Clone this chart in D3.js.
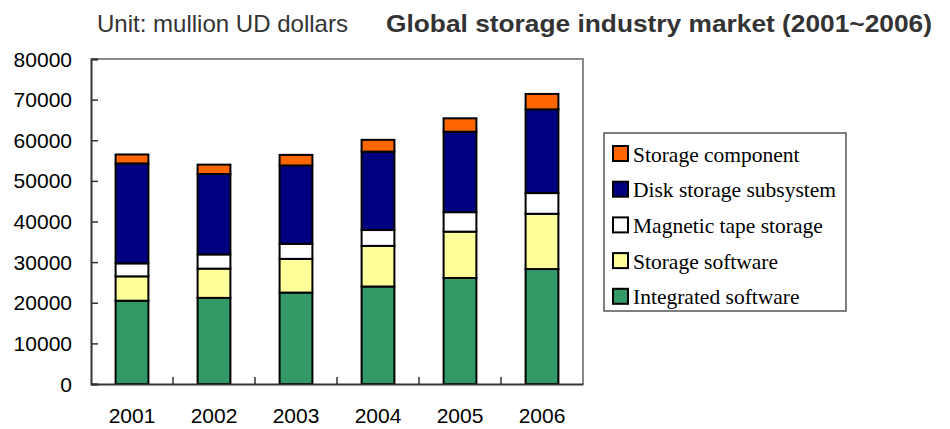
<!DOCTYPE html>
<html>
<head>
<meta charset="utf-8">
<script src="https://cdn.jsdelivr.net/npm/d3@7"></script>
<style>
  html, body { margin: 0; padding: 0; background: #fff; }
  svg { display: block; }
</style>
</head>
<body>
<svg id="chart" width="950" height="429"></svg>
<script>
// ---- data ----
const years = ["2001", "2002", "2003", "2004", "2005", "2006"];
const integratedSoftware = [20500, 21200, 22500, 24000, 26100, 28300];
const storageSoftware    = [6000, 7200, 8300, 10000, 11400, 13600];
const magneticTape       = [3200, 3500, 3700, 3900, 4800, 5100];
const diskSubsystem      = [24600, 19800, 19300, 19300, 19800, 20600];
const storageComponent   = [2200, 2300, 2600, 2900, 3300, 3800];
const seriesNames = ["Integrated software", "Storage software", "Magnetic tape storage", "Disk storage subsystem", "Storage component"];
const seriesColors = ["#339966", "#FFFF99", "#FFFFFF", "#000080", "#FF6600"];
const yTicks = [0, 10000, 20000, 30000, 40000, 50000, 60000, 70000, 80000];
const unitText = "Unit: mullion UD dollars";
const titleText = "Global storage industry market (2001~2006)";

const seriesValues = [integratedSoftware, storageSoftware, magneticTape, diskSubsystem, storageComponent];
const table = years.map((y, i) => {
  const row = { year: y };
  seriesNames.forEach((n, j) => row[n] = seriesValues[j][i]);
  return row;
});

const svg = d3.select("#chart");
const m = { left: 91, right: 583, top: 59, bottom: 384 };

const x = d3.scaleBand().domain(years).range([m.left, m.right]).paddingInner(0.6).paddingOuter(0.3);
const xb = d3.scaleBand().domain(years).range([m.left, m.right]);
const y = d3.scaleLinear().domain([0, 80000]).range([m.bottom, m.top]);

// plot frame (top & right grey)
svg.append("path")
  .attr("d", `M${m.left},${m.top}H${m.right}V${m.bottom}`)
  .attr("fill", "none").attr("stroke", "#8a8a8a").attr("stroke-width", 2);

const stack = d3.stack().keys(seriesNames)(table);

svg.append("g").selectAll("g").data(stack).join("g")
  .attr("fill", (d, i) => seriesColors[i])
  .selectAll("rect").data(d => d).join("rect")
  .attr("x", d => x(d.data.year))
  .attr("width", x.bandwidth())
  .attr("y", d => y(d[1]))
  .attr("height", d => y(d[0]) - y(d[1]))
  .attr("stroke", "#000").attr("stroke-width", 2);

// y axis
const yAxis = svg.append("g").attr("transform", `translate(${m.left},0)`)
  .call(d3.axisRight(y).tickValues(yTicks).tickSize(7).tickFormat(""));
yAxis.select(".domain").attr("stroke", "#333").attr("stroke-width", 2);
yAxis.selectAll(".tick line").attr("stroke", "#333").attr("stroke-width", 1.5);

svg.append("g").selectAll("text").data(yTicks).join("text")
  .attr("x", 72).attr("y", d => y(d)).attr("dy", "0.36em")
  .attr("text-anchor", "end")
  .attr("font-family", "Liberation Sans, Arial, sans-serif").attr("font-size", 21)
  .attr("fill", "#000").text(d => d);

// x axis
const xAxis = svg.append("g").attr("transform", `translate(0,${m.bottom})`)
  .call(d3.axisTop(xb).tickSize(0).tickFormat(""));
xAxis.select(".domain").attr("stroke", "#333").attr("stroke-width", 2);
xAxis.selectAll(".tick").remove();
svg.append("g").selectAll("line").data(years.slice(1)).join("line")
  .attr("x1", d => xb(d)).attr("x2", d => xb(d))
  .attr("y1", m.bottom).attr("y2", m.bottom - 7)
  .attr("stroke", "#333").attr("stroke-width", 1.5);

svg.append("g").selectAll("text").data(years).join("text")
  .attr("x", d => xb(d) + xb.bandwidth() / 2).attr("y", 423)
  .attr("text-anchor", "middle")
  .attr("font-family", "Liberation Sans, Arial, sans-serif").attr("font-size", 21)
  .attr("fill", "#000").text(d => d);

// titles
svg.append("text").attr("x", 97).attr("y", 32)
  .attr("font-family", "Liberation Sans, Arial, sans-serif").attr("font-size", 24)
  .attr("textLength", 251).attr("lengthAdjust", "spacingAndGlyphs")
  .attr("fill", "#333").text(unitText);
svg.append("text").attr("x", 386).attr("y", 32)
  .attr("font-family", "Liberation Sans, Arial, sans-serif").attr("font-size", 24)
  .attr("textLength", 546).attr("lengthAdjust", "spacingAndGlyphs")
  .attr("font-weight", "bold").attr("fill", "#333").text(titleText);

// legend
const lg = svg.append("g");
lg.append("rect").attr("x", 604).attr("y", 133).attr("width", 242).attr("height", 178)
  .attr("fill", "#fff").attr("stroke", "#555").attr("stroke-width", 1.5);
const legendOrder = [4, 3, 2, 1, 0];
const items = lg.selectAll("g.item").data(legendOrder).join("g")
  .attr("transform", (d, i) => `translate(613,${154 + i * 35.7})`);
items.append("rect").attr("x", 0).attr("y", -8).attr("width", 15).attr("height", 15)
  .attr("fill", d => seriesColors[d]).attr("stroke", "#000").attr("stroke-width", 2);
items.append("text").attr("x", 20).attr("y", 0).attr("dy", "0.35em")
  .attr("font-family", "Liberation Serif, Times New Roman, serif").attr("font-size", 21.5)
  .attr("fill", "#000").text(d => seriesNames[d]);
</script>
</body>
</html>
